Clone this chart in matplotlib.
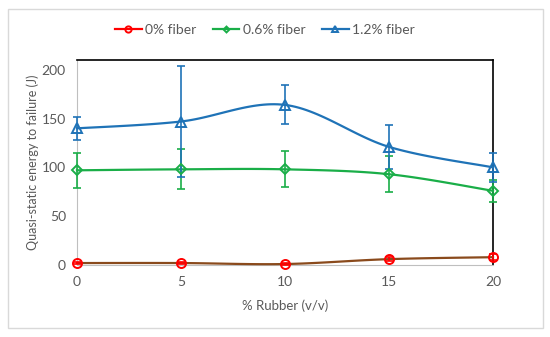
import numpy as np
import matplotlib
matplotlib.use('Agg')
import matplotlib.pyplot as plt
from matplotlib.lines import Line2D
from matplotlib.patches import Rectangle

rubber = [0, 5, 10, 15, 20]
fiber0 = [2, 2, 1, 6, 8]
fiber0_err = [1, 1, 1, 2, 3]
fiber06 = [97, 98, 98, 93, 76]
fiber06_err = [18, 20.5, 18.5, 18.5, 11]
fiber12 = [140, 147, 164, 121, 100]
fiber12_err = [12, 57, 20, 22.5, 15]
labels = ['0% fiber', '0.6% fiber', '1.2% fiber']

plt.rcParams['font.family'] = ['Lato', 'DejaVu Sans']
txt = '#595959'


def smooth(x, y, n=30):
    # excel style smoothed line (bezier through points)
    x = np.asarray(x, float)
    y = np.asarray(y, float)
    px = np.concatenate([[x[0]], x, [x[-1]]])
    py = np.concatenate([[y[0]], y, [y[-1]]])
    xs, ys = [], []
    t = np.linspace(0, 1, n)
    for i in range(len(x) - 1):
        p0 = np.array([px[i + 1], py[i + 1]])
        p3 = np.array([px[i + 2], py[i + 2]])
        p1 = p0 + (np.array([px[i + 2], py[i + 2]]) - np.array([px[i], py[i]])) / 6
        p2 = p3 - (np.array([px[i + 3], py[i + 3]]) - np.array([px[i + 1], py[i + 1]])) / 6
        b = ((1 - t) ** 3)[:, None] * p0 + (3 * (1 - t) ** 2 * t)[:, None] * p1 \
            + (3 * (1 - t) * t ** 2)[:, None] * p2 + (t ** 3)[:, None] * p3
        xs.extend(b[:, 0])
        ys.extend(b[:, 1])
    return xs, ys


fig = plt.figure(figsize=(5.5, 3.37), dpi=100)
fig.patches.append(Rectangle((8 / 550, 9 / 337), 535 / 550, 319 / 337, transform=fig.transFigure,
                             fill=False, edgecolor='#d9d9d9', linewidth=1))
ax = fig.add_axes([77 / 550, 1 - 265 / 337, 416 / 550, 205 / 337])

series = [
    (fiber0, fiber0_err, '#ff0000', '#8a4a1c', 'o', 6.5),
    (fiber06, fiber06_err, '#1aae48', '#1aae48', 'D', 5),
    (fiber12, fiber12_err, '#1f73b7', '#1f73b7', '^', 7),
]
handles = []
for (vals, err, col, lcol, mk, ms), lab in zip(series, labels):
    sx, sy = smooth(rubber, vals)
    ax.plot(sx, sy, color=lcol, lw=1.6, zorder=3, clip_on=False)
    ax.errorbar(rubber, vals, yerr=err, fmt='none', ecolor=col, elinewidth=1.2,
                capsize=3, capthick=1.2, zorder=3, clip_on=False)
    ax.plot(rubber, vals, ls='none', marker=mk, ms=ms, mfc='none', mec=col, mew=1.4,
            zorder=4, clip_on=False)
    handles.append(Line2D([], [], color=col, lw=1.6, marker=mk, ms=ms - 2, mfc='none',
                          mec=col, mew=1.4))

ax.set_xlim(0, 20)
ax.set_ylim(0, 210)
ax.set_xticks(rubber)
ax.set_yticks([0, 50, 100, 150, 200])
ax.tick_params(length=0, labelsize=10, colors=txt, pad=8)
for s in ['left', 'bottom']:
    ax.spines[s].set_color('#bfbfbf')
    ax.spines[s].set_linewidth(0.8)
for s in ['top', 'right']:
    ax.spines[s].set_color('black')
    ax.spines[s].set_linewidth(1.2)

ax.set_xlabel('% Rubber (v/v)', fontsize=9.5, color=txt, labelpad=8)
ax.set_ylabel('Quasi-static energy to failure (J)', fontsize=9, color=txt, labelpad=2)

fig.legend(handles, labels, loc='center', bbox_to_anchor=(265 / 550, 1 - 30 / 337), ncol=3,
           frameon=False, fontsize=10, labelcolor=txt, handlelength=1.9, columnspacing=1.2,
           handletextpad=0.25)

fig.savefig('out.png', dpi=100)
